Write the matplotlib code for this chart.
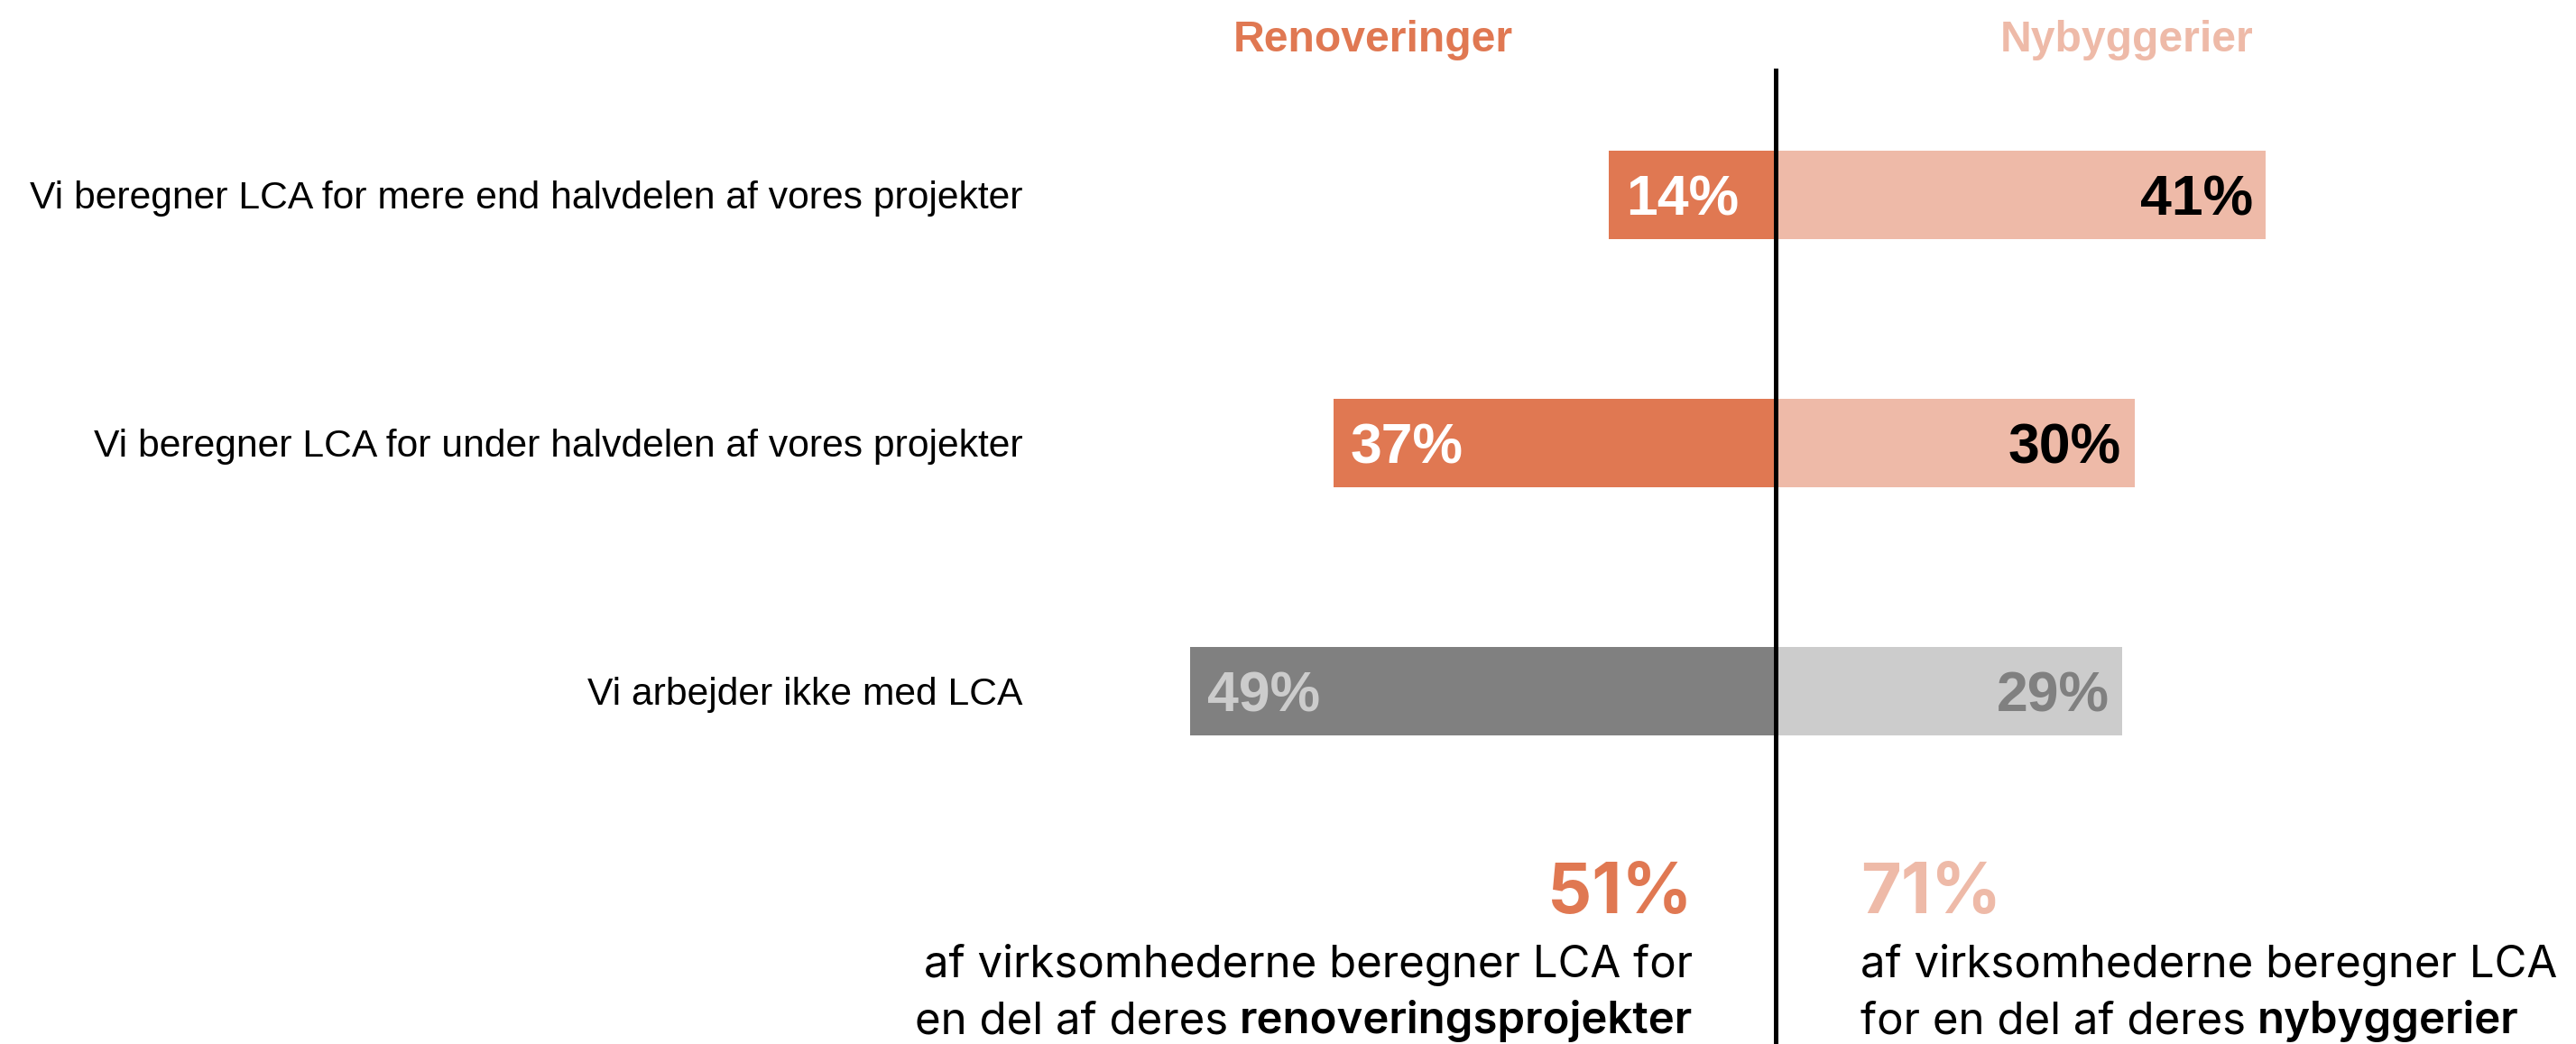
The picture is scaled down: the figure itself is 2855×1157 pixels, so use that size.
import matplotlib
matplotlib.use('Agg')
import matplotlib.pyplot as plt

categories = [
    'Vi beregner LCA for mere end halvdelen af vores projekter',
    'Vi beregner LCA for under halvdelen af vores projekter',
    'Vi arbejder ikke med LCA',
]
renoveringer = [14, 37, 49]
nybyggerier = [41, 30, 29]
header_left = 'Renoveringer'
header_right = 'Nybyggerier'
total_left = 51
total_right = 71
note_left = ['af virksomhederne beregner LCA for', 'en del af deres ', 'renoveringsprojekter']
note_right = ['af virksomhederne beregner LCA', 'for en del af deres ', 'nybyggerier']

ORANGE = '#E07852'
ORANGE_LIGHT = '#EEBAA8'
GREY = '#808080'
GREY_LIGHT = '#CCCCCC'

left_colors = [ORANGE, ORANGE, GREY]
right_colors = [ORANGE_LIGHT, ORANGE_LIGHT, GREY_LIGHT]
left_text_colors = ['white', 'white', GREY_LIGHT]
right_text_colors = ['black', 'black', GREY]

W, H = 2855, 1157
fig = plt.figure(figsize=(W / 100, H / 100), dpi=100)
ax = fig.add_axes([0, 0, 1, 1])
ax.axis('off')

# 13.25 px per percent, zero line at x=1968 px; 275 px between rows
px_per = 13.25
x0 = 1968
ax.set_xlim(-x0 / px_per, (W - x0) / px_per)
row_px = 275
top = -216 / row_px
ax.set_ylim(top + H / row_px, top)

y = list(range(len(categories)))
bar_h = 98 / row_px
ax.barh(y, [-v for v in renoveringer], height=bar_h, color=left_colors, zorder=2)
ax.barh(y, nybyggerier, height=bar_h, color=right_colors, zorder=2)
ax.axvline(0, ymin=0, ymax=(H - 78) / H, color='black', lw=3.6, zorder=3)

ARIAL = 'Liberation Sans'
lab_dy = 0.081
for i, cat in enumerate(categories):
    ax.text(-63.0, i + 0.055, cat, ha='right', va='baseline', fontsize=30.7, family=ARIAL)
    ax.text(-renoveringer[i] + 1.45, i + lab_dy, f'{renoveringer[i]}%', ha='left', va='baseline',
            fontsize=45, fontweight='bold', family=ARIAL, color=left_text_colors[i], zorder=4)
    ax.text(nybyggerier[i] - 1.1, i + lab_dy, f'{nybyggerier[i]}%', ha='right', va='baseline',
            fontsize=45, fontweight='bold', family=ARIAL, color=right_text_colors[i], zorder=4)

fig.text(1522 / W, 1 - 57 / H, header_left, ha='center', va='baseline', fontsize=34.7,
         fontweight='bold', family=ARIAL, color=ORANGE)
fig.text(2357 / W, 1 - 57 / H, header_right, ha='center', va='baseline', fontsize=34.7,
         fontweight='bold', family=ARIAL, color=ORANGE_LIGHT)

# bottom summary
INTER = 'Inter'
xr_left = 1876 / W
xl_right = 2062 / W
y_big = 1 - 1012 / H
y_l1 = 1 - 1083 / H
y_l2 = 1 - 1145 / H
fs_note = 35.4

fig.text(xr_left, y_big, f'{total_left}%', ha='right', va='baseline', fontsize=55.5,
         fontweight='bold', family=INTER, color=ORANGE)
fig.text(xl_right, y_big, f'{total_right}%', ha='left', va='baseline', fontsize=55.5,
         fontweight='bold', family=INTER, color=ORANGE_LIGHT)

fig.text(xr_left, y_l1, note_left[0], ha='right', va='baseline', fontsize=fs_note, family=INTER)
fig.text(xl_right, y_l1, note_right[0], ha='left', va='baseline', fontsize=fs_note, family=INTER)

renderer = fig.canvas.get_renderer()
space_px = 0.26 * fs_note * 100 / 72

bold_l = fig.text(xr_left, y_l2, note_left[2], ha='right', va='baseline', fontsize=fs_note,
                  fontweight='semibold', family=INTER)
bb = bold_l.get_window_extent(renderer)
fig.text((bb.x0 - space_px) / W, y_l2, note_left[1].strip(), ha='right', va='baseline',
         fontsize=fs_note, family=INTER)

reg_r = fig.text(xl_right, y_l2, note_right[1].strip(), ha='left', va='baseline',
                 fontsize=fs_note, family=INTER)
bb = reg_r.get_window_extent(renderer)
fig.text((bb.x1 + space_px) / W, y_l2, note_right[2], ha='left', va='baseline',
         fontsize=fs_note, fontweight='semibold', family=INTER)

fig.savefig('out.png', dpi=100, facecolor='white')
